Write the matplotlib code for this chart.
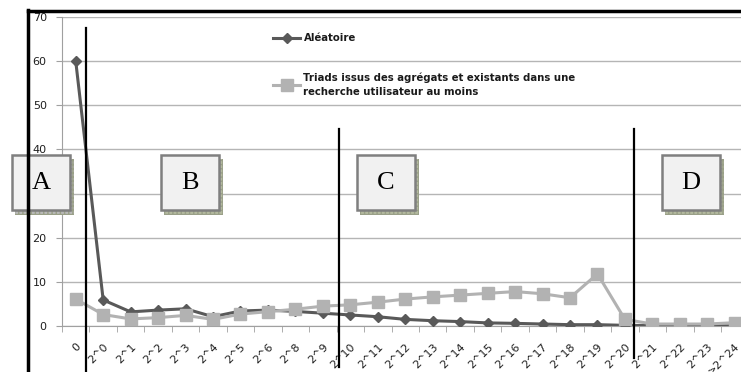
import numpy as np
import matplotlib.pyplot as plt
from matplotlib.patches import Rectangle
from matplotlib.lines import Line2D

# categories (2^7 is absent in the original)
categories = ["0", "2^0", "2^1", "2^2", "2^3", "2^4", "2^5", "2^6", "2^8", "2^9",
              "2^10", "2^11", "2^12", "2^13", "2^14", "2^15", "2^16", "2^17",
              "2^18", "2^19", "2^20", "2^21", "2^22", "2^23", ">2^24"]
aleatoire = [60, 5.9, 3.2, 3.6, 3.9, 2.1, 3.4, 3.6, 3.3, 2.9,
             2.5, 2.1, 1.5, 1.2, 1.0, 0.7, 0.6, 0.45, 0.3, 0.3,
             0.15, 0.1, 0.05, 0.05, 0.05]
triads = [6.1, 2.6, 1.6, 1.9, 2.4, 1.5, 2.7, 3.25, 3.8, 4.5,
          4.8, 5.4, 6.1, 6.6, 7.0, 7.4, 7.8, 7.3, 6.4, 11.8,
          1.5, 0.45, 0.45, 0.45, 0.75]
label_a = "Aléatoire"
label_t = "Triads issus des agrégats et existants dans une\nrecherche utilisateur au moins"
zones = ["A", "B", "C", "D"]

W, H = 741, 372
fig = plt.figure(figsize=(W / 100, H / 100), dpi=100)
x = np.arange(len(categories))

# main axes, right side cut off like the screenshot
ax = fig.add_axes([62 / W, 1 - 326 / H, 686.5 / W, 309 / H])
ax.plot(x, aleatoire, color="#595959", lw=2.2, marker="D", ms=5.5, label=label_a, zorder=3)
ax.plot(x, triads, color="#b2b2b2", lw=2.2, marker="s", ms=8, label=label_t, zorder=4)

ax.set_xlim(-0.5, len(categories) - 0.5)
ax.set_ylim(0, 70)
ax.set_yticks(range(0, 71, 10))
ax.grid(axis="y", color="#b5b5b5", lw=1)
ax.set_axisbelow(True)
for s in ["top", "right"]:
    ax.spines[s].set_visible(False)
ax.spines["left"].set_color("#a0a0a0")
ax.spines["bottom"].set_color("#a0a0a0")
ax.tick_params(axis="y", length=4, color="#a0a0a0", pad=7, labelsize=8, labelcolor="#1f1f1f")

ax.set_xticks(x)
ax.set_xticklabels(categories, rotation=45, ha="right", rotation_mode="anchor")
ax.set_xticks(np.arange(-0.5, len(categories), 1), minor=True)
ax.tick_params(axis="x", which="major", length=0, pad=11, labelsize=8, labelcolor="#1f1f1f")
ax.tick_params(axis="x", which="minor", length=4, color="#a0a0a0")

leg = ax.legend(loc="upper left", bbox_to_anchor=(268 / W, 1 - 28 / H),
                bbox_transform=fig.transFigure, frameon=False, borderpad=0,
                labelspacing=2.9, handlelength=2.7, handletextpad=0.3,
                prop={"weight": "bold", "size": 7.3})
for t in leg.get_texts():
    t.set_color("#1a1a1a")
leg.get_texts()[1].set_linespacing(1.55)

# overlay in pixel coordinates for the hand-drawn annotations
ov = fig.add_axes([0, 0, 1, 1], zorder=10)
ov.set_xlim(0, W)
ov.set_ylim(H, 0)
ov.axis("off")
ov.patch.set_alpha(0)

# frame of the screenshot
ov.add_line(Line2D([28, 28], [10, H], color="black", lw=2.5))
ov.add_line(Line2D([28, W], [11, 11], color="black", lw=2.5))

# dividing lines
ov.add_line(Line2D([85.5, 85.5], [28, H], color="black", lw=1.6))
ov.add_line(Line2D([338.5, 338.5], [129, 367], color="black", lw=1.6))
ov.add_line(Line2D([633.5, 633.5], [129, 358], color="black", lw=1.6))

box_x = [12, 161, 357, 662]
shadow_cols = ["#b9b9b9", "#b3b99f", "#b3b99f", "#b3b99f"]
for lab, bx, sc in zip(zones, box_x, shadow_cols):
    ov.add_patch(Rectangle((bx + 3, 159), 59, 56, facecolor=sc, edgecolor="#9aa088",
                           hatch="++++", lw=0))
    ov.add_patch(Rectangle((bx, 155), 58, 55, facecolor="#f1f1f1", edgecolor="#7f7f7f", lw=1.8))
    ov.text(bx + 29, 183, lab, ha="center", va="center", fontsize=19,
            family="Liberation Serif", color="black")

fig.savefig("out.png", dpi=100)
